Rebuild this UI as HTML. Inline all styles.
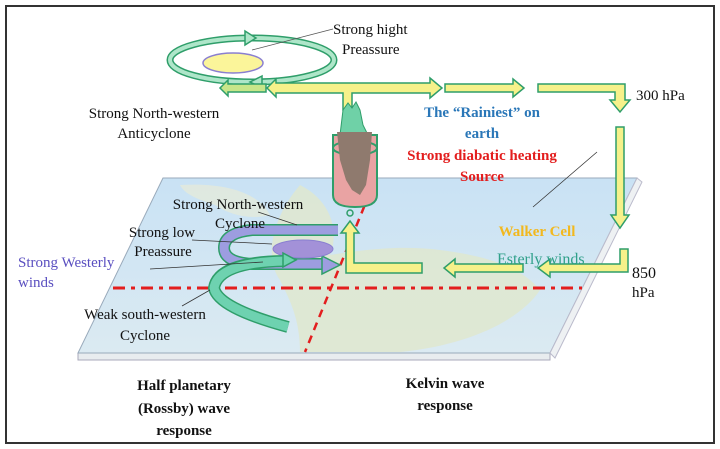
<!DOCTYPE html>
<html><head><meta charset="utf-8"><style>
html,body{margin:0;padding:0;background:#fff;}
svg{display:block;}
text{font-family:"Liberation Serif",serif;}
</style></head><body>
<svg width="720" height="449" viewBox="0 0 720 449" xmlns="http://www.w3.org/2000/svg">
<defs>
<linearGradient id="sea" x1="0" y1="0" x2="0" y2="1">
<stop offset="0" stop-color="#c9e2f4"/><stop offset="1" stop-color="#dbeaf2"/>
</linearGradient>
</defs>
<rect x="6" y="6" width="708" height="437" fill="#fff" stroke="#333" stroke-width="2"/>
<!-- slab -->
<polygon points="78,353 550,353 550,360 78,360" fill="#e8ecef" stroke="#aab" stroke-width="1"/>
<polygon points="163,178 637,178 550,353 78,353" fill="url(#sea)" stroke="#9ab" stroke-width="1"/>
<polygon points="550,353 637,178 642,182 555,358" fill="#eef1f3" stroke="#bbc" stroke-width="1"/>
<!-- land blobs -->
<path d="M300,185 C330,200 340,230 330,255 C360,250 400,245 440,250 C480,255 520,265 540,290 C520,320 470,345 400,352 L300,352 C300,320 290,300 280,280 C265,260 270,220 300,185Z" fill="#dfe8cf" opacity="0.85"/>
<path d="M180,185 C230,182 260,195 270,215 C250,220 230,215 215,205 C200,200 185,195 180,185Z" fill="#e3eadb" opacity="0.8"/>
<!-- red dash-dot line -->
<line x1="113" y1="288" x2="582" y2="288" stroke="#e31e1e" stroke-width="3" stroke-dasharray="12,6,4,6"/>
<line x1="375" y1="180" x2="305" y2="352" stroke="#e31e1e" stroke-width="2.5" stroke-dasharray="8,6"/>
<!-- top ellipse orbit -->
<ellipse cx="252" cy="60" rx="82" ry="22" fill="none" stroke="#2f9e6a" stroke-width="7"/>
<ellipse cx="252" cy="60" rx="82" ry="22" fill="none" stroke="#aee6c9" stroke-width="4"/>
<polygon points="245,31 256,38 245,45" fill="#aee6c9" stroke="#2f9e6a" stroke-width="1.5"/>
<polygon points="262,76 250,82 262,88" fill="#aee6c9" stroke="#2f9e6a" stroke-width="1.5"/>
<ellipse cx="233" cy="63" rx="30" ry="10" fill="#fbf59a" stroke="#8a7fd0" stroke-width="1.5"/>
<line x1="333" y1="29" x2="252" y2="50" stroke="#555" stroke-width="0.8"/>
<!-- top yellow arrows -->
<path d="M352,110 L352,93 L430,93 L430,98 L442,88 L430,78 L430,83 L276,83 L276,79 L267,88 L276,97 L276,93 L343,93 L343,110Z" fill="#f6f18a" stroke="#2f9e6a" stroke-width="1.5"/>
<path d="M266,84 L228,84 L228,80 L220,88 L228,96 L228,92 L266,92Z" fill="#c7e68a" stroke="#2f9e6a" stroke-width="1.5"/>
<path d="M445,84 L513,84 L513,79 L524,88 L513,97 L513,92 L445,92Z" fill="#f6f18a" stroke="#2f9e6a" stroke-width="1.5"/>
<path d="M538,84 L625,84 L625,100 L630,100 L620,112 L610,100 L615,100 L615,92 L538,92Z" fill="#f6f18a" stroke="#2f9e6a" stroke-width="1.5"/>
<path d="M616,127 L624,127 L624,215 L629,215 L620,228 L611,215 L616,215Z" fill="#f6f18a" stroke="#2f9e6a" stroke-width="1.5"/>
<path d="M620,249 L628,249 L628,272 L550,272 L550,277 L538,268 L550,259 L550,264 L620,264Z" fill="#f6f18a" stroke="#2f9e6a" stroke-width="1.5"/>
<path d="M523,264 L455,264 L455,259 L444,268 L455,277 L455,272 L523,272Z" fill="#f6f18a" stroke="#2f9e6a" stroke-width="1.5"/>
<path d="M422,263 L422,273 L346,273 L346,233 L341,233 L350,221 L359,233 L354,233 L354,263Z" fill="#f6f18a" stroke="#2f9e6a" stroke-width="1.5"/>
<!-- cylinder -->
<path d="M333,135 L377,135 L377,195 Q377,207 355,207 Q333,207 333,195Z" fill="#e9a3a3" stroke="#2f9e6a" stroke-width="2"/>
<ellipse cx="355" cy="148" rx="22" ry="7" fill="none" stroke="#2f9e6a" stroke-width="2"/>
<path d="M343,110 L348,103 L352,108 L356,102 L360,110 L363,125 L368,135 L340,135 Z" fill="#6fd1a7" stroke="#2f9e6a" stroke-width="1"/>
<path d="M337,132 L372,132 L370,160 L366,185 L360,195 L352,190 L346,180 L340,160Z" fill="#8f7a6e"/>
<circle cx="350" cy="213" r="3" fill="none" stroke="#2f9e6a" stroke-width="1.5"/>
<!-- purple U arrow -->
<path d="M338,230 L252,230 Q224,233 224,248 Q224,262 252,264 L322,264" fill="none" stroke="#2f9e6a" stroke-width="12"/>
<path d="M338,230 L252,230 Q224,233 224,248 Q224,262 252,264 L324,264" fill="none" stroke="#9d9de0" stroke-width="9"/>
<polygon points="322,256 340,265 322,274" fill="#9d9de0" stroke="#2f9e6a" stroke-width="1.5"/>
<ellipse cx="303" cy="249" rx="30" ry="9" fill="#a391d8" stroke="#8a7fd0" stroke-width="1"/>
<!-- teal arc -->
<path d="M284,261 Q218,262 214,288 Q218,308 288,327" fill="none" stroke="#2f9e6a" stroke-width="12"/>
<path d="M286,261 Q218,262 214,288 Q218,308 288,327" fill="none" stroke="#6ed2b0" stroke-width="9"/>
<polygon points="283,253 296,260 283,267" fill="#6ed2b0" stroke="#2f9e6a" stroke-width="1.5"/>
<!-- pointer lines -->
<line x1="258" y1="212" x2="297" y2="225" stroke="#333" stroke-width="0.8"/>
<line x1="192" y1="240" x2="272" y2="244" stroke="#333" stroke-width="0.8"/>
<line x1="150" y1="269" x2="263" y2="262" stroke="#333" stroke-width="0.8"/>
<line x1="182" y1="306" x2="210" y2="290" stroke="#333" stroke-width="0.8"/>
<line x1="533" y1="207" x2="597" y2="152" stroke="#333" stroke-width="0.8"/>
<!-- texts -->
<g font-size="15" fill="#111">
<text x="333" y="34">Strong hight</text>
<text x="342" y="54">Preassure</text>
<text x="154" y="118" text-anchor="middle">Strong North-western</text>
<text x="154" y="138" text-anchor="middle">Anticyclone</text>
<text x="636" y="100">300 hPa</text>
<text x="238" y="209" text-anchor="middle">Strong North-western</text>
<text x="240" y="228" text-anchor="middle">Cyclone</text>
<text x="162" y="237" text-anchor="middle">Strong low</text>
<text x="163" y="256" text-anchor="middle">Preassure</text>
<text x="145" y="319" text-anchor="middle">Weak south-western</text>
<text x="145" y="340" text-anchor="middle">Cyclone</text>
<text x="632" y="278" font-size="16">850</text>
<text x="632" y="297">hPa</text>
</g>
<text x="18" y="267" font-size="15" fill="#5a4fc0">Strong Westerly</text>
<text x="18" y="287" font-size="15" fill="#5a4fc0">winds</text>
<g font-size="15" font-weight="bold" text-anchor="middle">
<text x="482" y="117" fill="#2a77b8">The “Rainiest” on</text>
<text x="482" y="138" fill="#2a77b8">earth</text>
<text x="482" y="160" fill="#e31e1e">Strong diabatic heating</text>
<text x="482" y="181" fill="#e31e1e">Source</text>
<text x="537" y="236" fill="#f2b81e">Walker Cell</text>
<text x="184" y="390" fill="#111">Half planetary</text>
<text x="184" y="413" fill="#111">(Rossby) wave</text>
<text x="184" y="435" fill="#111">response</text>
<text x="445" y="388" fill="#111">Kelvin wave</text>
<text x="445" y="410" fill="#111">response</text>
</g>
<text x="497" y="264" font-size="16" fill="#2fa08a">Esterly winds</text>
</svg>
</body></html>
